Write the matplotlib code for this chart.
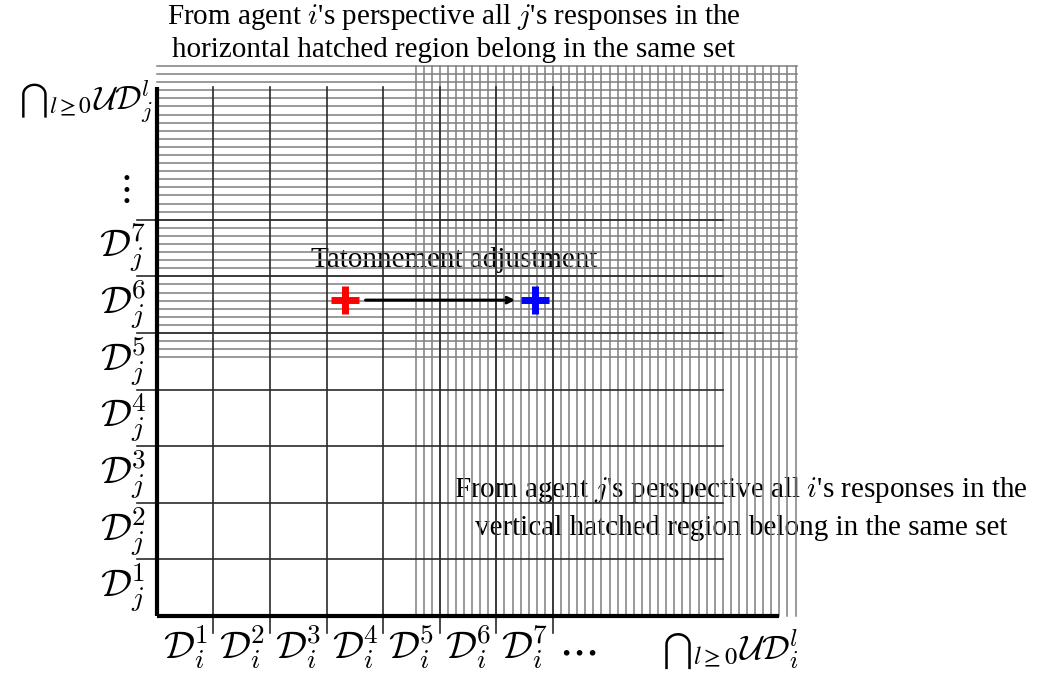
import numpy as np
import matplotlib
matplotlib.use('Agg')
import matplotlib.pyplot as plt

plt.rcParams['font.family'] = ['Liberation Serif', 'DejaVu Serif']
plt.rcParams['mathtext.fontset'] = 'cm'

# grid cells: one unit per cell D^k
row_labels = [r'$\mathcal{D}_j^{%d}$' % k for k in range(1, 8)]
col_labels = [r'$\mathcal{D}_i^{%d}$' % k for k in range(1, 8)]
n_rows = 7
n_cols = 7
grid_len = 10          # how far the row lines run to the right
axis_x_end = 11.0
axis_y_end = 9.35

# hatched regions (in cell units), lines every 1/7
hatch_step = 1 / 7
hatch_h_y = (32, 68)   # horizontal hatch: y = k/7
hatch_h_x = (0, 11.32)
hatch_v_x = (32, 79)   # vertical hatch: x = k/7
hatch_v_y = (0, 9.71)

start_pt = (3.32, 5.58)
end_pt = (6.68, 5.58)

fig = plt.figure(figsize=(10.42, 6.75), dpi=100)
ax = fig.add_axes([0, 0, 1, 1])
ax.set_xlim(-2.77, 15.64)
ax.set_ylim(-1.04, 10.88)
ax.axis('off')

hc = '#7f7f7f'
# horizontal hatch
for k in range(hatch_h_y[0], hatch_h_y[1] + 1):
    ax.plot(hatch_h_x, [k * hatch_step] * 2, color=hc, lw=1.1, zorder=1)
# vertical hatch
for k in range(hatch_v_x[0], hatch_v_x[1] + 1):
    ax.plot([k * hatch_step] * 2, hatch_v_y, color=hc, lw=1.1, zorder=1)

gc = '#2a2a2a'
# row lines (with stubs to the left of the axis)
for k in range(1, n_rows + 1):
    ax.plot([-0.35, grid_len], [k, k], color=gc, lw=1.2, zorder=2)
# column lines (with stubs below the axis)
for k in range(1, n_cols + 1):
    ax.plot([k, k], [-0.3, axis_y_end], color=gc, lw=1.2, zorder=2)

# axes
ax.plot([0, 0], [0, axis_y_end], color='black', lw=3, zorder=3, solid_capstyle='butt')
ax.plot([0, axis_x_end], [0, 0], color='black', lw=3, zorder=3, solid_capstyle='butt')

lfs = 28
for k, lab in enumerate(row_labels):
    ax.text(-0.6, k + 0.5, lab, ha='center', va='center', fontsize=lfs)
for k, lab in enumerate(col_labels):
    ax.text(k + 0.5, -0.55, lab, ha='center', va='center', fontsize=lfs)

ax.text(-0.6, 7.53, r'$\vdots$', ha='center', va='center', fontsize=lfs)
ax.text(7.42, -0.62, r'$\cdots$', ha='center', va='center', fontsize=lfs + 4)

# intersection labels: big cap + subscript, then calligraphic UD
cfs = 24
ax.text(-1.15, 8.94, r'${\bigcap}_{l\geq 0}$', ha='right', va='baseline',
        fontsize=cfs, math_fontfamily='stix')
ax.text(-1.13, 8.94, r'$\mathcal{U}\mathcal{D}_j^l$', ha='left', va='baseline',
        fontsize=cfs)
ax.text(10.27, -0.78, r'${\bigcap}_{l\geq 0}$', ha='right', va='baseline',
        fontsize=cfs + 1, math_fontfamily='stix')
ax.text(10.29, -0.78, r'$\mathcal{U}\mathcal{D}_i^l$', ha='left', va='baseline',
        fontsize=cfs + 1)

fs = 21
ax.text(5.25, 10.58, r"From agent $i$'s perspective all $j$'s responses in the",
        ha='center', va='center', fontsize=fs)
ax.text(5.25, 9.99, "horizontal hatched region belong in the same set",
        ha='center', va='center', fontsize=fs)
ax.text(10.32, 2.23, r"From agent $j$'s perspective all $i$'s responses in the",
        ha='center', va='center', fontsize=fs, zorder=0)
ax.text(10.32, 1.55, "vertical hatched region belong in the same set",
        ha='center', va='center', fontsize=fs, zorder=0)
ax.text(5.25, 6.29, "Tatonnement adjustment", ha='center', va='center',
        fontsize=fs, zorder=0)

ax.annotate('', xy=(end_pt[0] - 0.3, end_pt[1]), xytext=(start_pt[0] + 0.32, start_pt[1]),
            arrowprops=dict(arrowstyle='->', color='black', lw=2.2), zorder=4)
ax.plot(*start_pt, marker='+', color='red', ms=20, mew=5, zorder=5)
ax.plot(*end_pt, marker='+', color='blue', ms=20, mew=5, zorder=5)

fig.savefig('out.png', dpi=100)
